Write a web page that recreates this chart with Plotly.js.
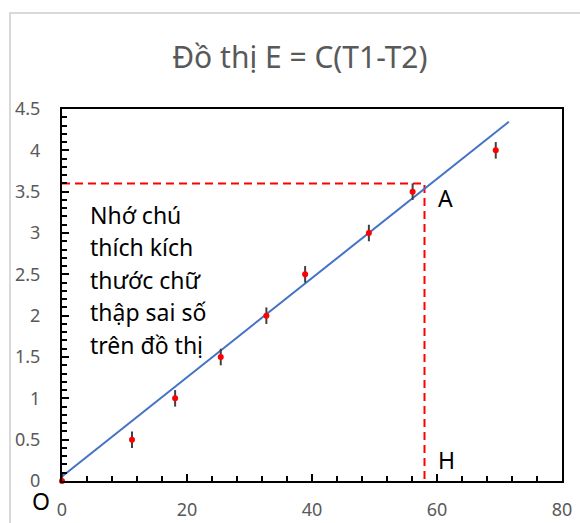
<!DOCTYPE html>
<html>
<head>
<meta charset="utf-8">
<script src="https://cdn.plot.ly/plotly-3.0.1.min.js"></script>
<style>
html, body { margin:0; padding:0; overflow:hidden; background:#fff; }
#frame { position:absolute; left:9px; top:12px; width:620px; height:600px; border:2px solid #d9d9d9; }
#chart { position:absolute; left:0; top:0; width:580px; height:523px; }
</style>
</head>
<body>
<div id="frame"></div>
<div id="chart"></div>
<script>
// Measured data (T1-T2 vs E)
const xVals = [0, 11.2, 18.1, 25.4, 32.7, 38.9, 49.1, 56.1, 69.4];
const yVals = [0, 0.5, 1.0, 1.5, 2.0, 2.5, 3.0, 3.5, 4.0];
const errY = 0.1;

// Fitted straight line (endpoints)
const lineX = [-1, 71.5];
const lineY = [-0.005, 4.345];

// Reading of point A -> H
const guideX = [0, 58, 58];
const guideY = [3.6, 3.6, 0];

const noteLines = ["Nhớ chú", "thích kích", "thước chữ", "thập sai số", "trên đồ thị"];
const noteX = 4.2;
const noteY = [3.22, 2.827, 2.434, 2.041, 1.648];

const traces = [
  { x: guideX, y: guideY, mode: 'lines', type: 'scatter',
    line: { color: '#ff0000', width: 2, dash: '8px,5px' }, hoverinfo: 'skip' },
  { x: lineX, y: lineY, mode: 'lines', type: 'scatter',
    line: { color: '#4472c4', width: 2 }, hoverinfo: 'skip' },
  { x: xVals, y: yVals, mode: 'markers', type: 'scatter',
    marker: { color: '#ff0000', size: 6 },
    error_y: { type: 'constant', value: errY, color: '#404040', thickness: 2, width: 0 },
    cliponaxis: false }
];

const tickFont = { family: 'Noto Sans, sans-serif', size: 18, color: '#595959' };
const annFont = { family: 'Noto Sans, sans-serif', size: 23, color: '#000000' };

const annotations = noteLines.map((t, i) => ({
  x: noteX, y: noteY[i], xref: 'x', yref: 'y', text: t, showarrow: false,
  xanchor: 'left', yanchor: 'middle', font: annFont
}));
annotations.push({ x: 61.3, y: 3.42, xref: 'x', yref: 'y', text: 'A', showarrow: false, xanchor: 'center', yanchor: 'middle', font: annFont });
annotations.push({ x: 61.5, y: 0.26, xref: 'x', yref: 'y', text: 'H', showarrow: false, xanchor: 'center', yanchor: 'middle', font: annFont });
annotations.push({ x: -0.042, y: -0.055, xref: 'paper', yref: 'paper', text: 'O', showarrow: false, xanchor: 'center', yanchor: 'middle', font: annFont });

const layout = {
  width: 580, height: 523,
  margin: { l: 62, r: 18, t: 109, b: 42 },
  paper_bgcolor: 'rgba(0,0,0,0)', plot_bgcolor: '#ffffff',
  showlegend: false,
  title: { text: 'Đồ thị E = C(T1-T2)', xref: 'container', yref: 'container',
           x: 0.517, xanchor: 'center', y: 0.891, yanchor: 'middle',
           font: { family: 'Noto Sans, sans-serif', size: 30, color: '#595959' } },
  xaxis: { range: [0, 80], dtick: 20, tick0: 0, showgrid: false, zeroline: false,
           showline: true, linecolor: '#000', linewidth: 2, mirror: true,
           ticks: 'inside', ticklen: 7, tickwidth: 2, tickcolor: '#000',
           ticklabelstandoff: 11,
           minor: { dtick: 4, tick0: 0, ticks: 'inside', ticklen: 5, tickwidth: 2, tickcolor: '#000', showgrid: false },
           tickfont: tickFont, fixedrange: true },
  yaxis: { range: [0, 4.5], dtick: 0.5, tick0: 0, showgrid: false, zeroline: false,
           showline: true, linecolor: '#000', linewidth: 2, mirror: true,
           ticks: 'inside', ticklen: 7, tickwidth: 2, tickcolor: '#000',
           ticklabelstandoff: 16,
           minor: { dtick: 0.1, tick0: 0, ticks: 'inside', ticklen: 5, tickwidth: 2, tickcolor: '#000', showgrid: false },
           tickfont: tickFont, fixedrange: true },
  annotations: annotations
};

Plotly.newPlot('chart', traces, layout, { staticPlot: true, displayModeBar: false });
</script>
</body>
</html>
